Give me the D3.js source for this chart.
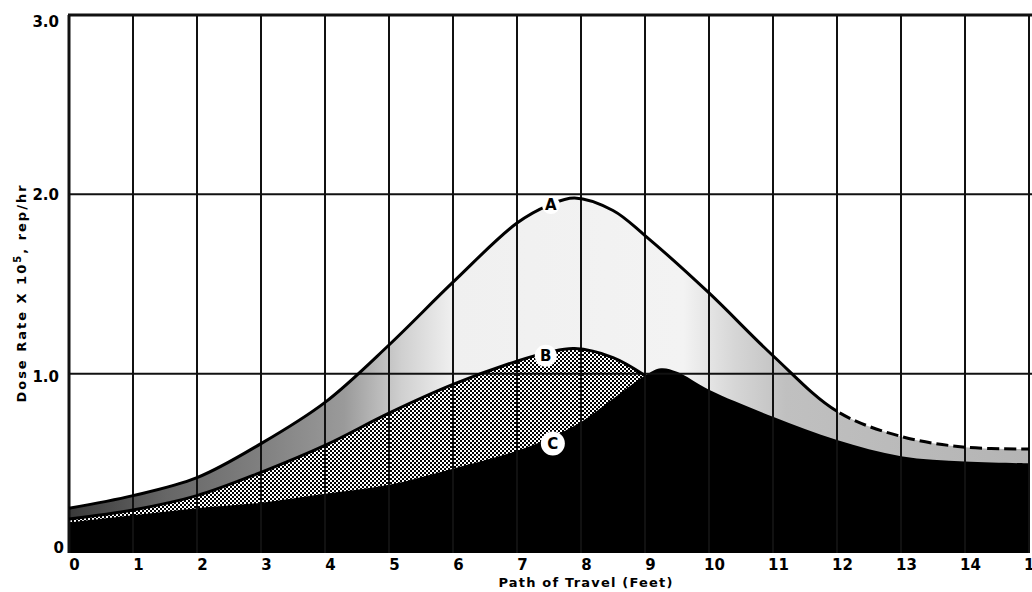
<!DOCTYPE html>
<html>
<head>
<meta charset="utf-8">
<script src="https://cdn.jsdelivr.net/npm/d3@7"></script>
<style>
    body { margin: 0; background: #fff; }
    text { font-family: "DejaVu Sans", sans-serif; font-weight: bold; fill: #000; }
</style>
</head>
<body>
<div id="chart"></div>
<script>
// values (feet, dose rate x 10^5 rep/hr)
const curveA = [
    [0, 0.25], [1, 0.32], [2, 0.42], [3, 0.61], [4, 0.84], [5, 1.16],
    [6, 1.51], [7, 1.84], [7.5, 1.94], [7.9, 1.98], [8.5, 1.91],
    [9, 1.77], [10, 1.45], [11, 1.10], [12, 0.79], [13, 0.65],
    [14, 0.59], [15, 0.58]
];
const curveB = [
    [0, 0.19], [1, 0.24], [2, 0.32], [3, 0.45], [4, 0.60], [5, 0.78], [6, 0.94],
    [7, 1.07], [7.5, 1.12], [7.9, 1.14], [8.5, 1.09], [9, 0.99]
];
const curveC = [
    [0, 0.17], [1, 0.21], [2, 0.25], [3, 0.28], [4, 0.33], [5, 0.38], [6, 0.47],
    [7, 0.57], [7.5, 0.64], [8, 0.73], [8.5, 0.86], [9, 0.99], [9.25, 1.03],
    [9.5, 1.01], [10, 0.91], [11, 0.76], [12, 0.63], [13, 0.54], [14, 0.51], [15, 0.50]
];
const curveLabels = [
    { name: "A", x: 7.53, y: 1.94, r: 9 },
    { name: "B", x: 7.45, y: 1.10, r: 11 },
    { name: "C", x: 7.56, y: 0.61, r: 12 }
];
const xTicks = d3.range(0, 16);
const yTicks = [0, 1, 2, 3];
const dashFrom = 12;

const width = 1032;
const height = 592;

let x = d3.scaleLinear().domain([0, 15]).range([69, 1029]);
let y = d3.scaleLinear().domain([0, 3]).range([553, 15]);

let svg = d3.select("#chart")
    .append("svg")
    .attr("width", width)
    .attr("height", height);

let defs = svg.append("defs");

// shading between A and the lower curves: dark at left, pale in the middle
let grad = defs.append("linearGradient")
    .attr("id", "shadeA")
    .attr("gradientUnits", "userSpaceOnUse")
    .attr("x1", x(0)).attr("x2", x(15))
    .attr("y1", 0).attr("y2", 0);
[[0, "#3a3a3a"], [1.5, "#666"], [3, "#808080"], [4.3, "#9a9a9a"], [5.2, "#d0d0d0"],
 [6, "#f0f0f0"], [9.6, "#f3f3f3"], [10.4, "#d6d6d6"], [11.2, "#c0c0c0"], [15, "#b4b4b4"]]
    .forEach(s => {
        grad.append("stop")
            .attr("offset", s[0] / 15)
            .attr("stop-color", s[1]);
    });

// halftone checker under B
let pat = defs.append("pattern")
    .attr("id", "checker")
    .attr("patternUnits", "userSpaceOnUse")
    .attr("width", 4).attr("height", 4);
pat.append("rect").attr("width", 4).attr("height", 4).attr("fill", "#fff");
pat.append("rect").attr("width", 2).attr("height", 2).attr("fill", "#000");
pat.append("rect").attr("x", 2).attr("y", 2).attr("width", 2).attr("height", 2).attr("fill", "#000");

defs.append("clipPath").attr("id", "clipSolid")
    .append("rect").attr("x", 0).attr("y", 0).attr("width", x(dashFrom)).attr("height", height);
defs.append("clipPath").attr("id", "clipDash")
    .append("rect").attr("x", x(dashFrom)).attr("y", 0).attr("width", width - x(dashFrom)).attr("height", height);

let smooth = d3.curveCatmullRom.alpha(0.5);

let area = d3.area()
    .x(d => x(d[0]))
    .y0(y(0))
    .y1(d => y(d[1]))
    .curve(smooth);

let line = d3.line()
    .x(d => x(d[0]))
    .y(d => y(d[1]))
    .curve(smooth);

// filled areas, back to front
svg.append("path").datum(curveA).attr("d", area).attr("fill", "url(#shadeA)");
svg.append("path").datum(curveB).attr("d", area).attr("fill", "url(#checker)");
svg.append("path").datum(curveC).attr("d", area).attr("fill", "#000");

// grid
svg.append("g")
    .selectAll("line")
    .data(xTicks)
    .join("line")
    .attr("x1", d => x(d)).attr("x2", d => x(d))
    .attr("y1", y(3)).attr("y2", y(0))
    .attr("stroke", "#111")
    .attr("stroke-width", d => d === 0 ? 3 : 2);

svg.append("g")
    .selectAll("line")
    .data(yTicks.filter(d => d > 0))
    .join("line")
    .attr("x1", x(0) - 1).attr("x2", width)
    .attr("y1", d => y(d)).attr("y2", d => y(d))
    .attr("stroke", "#111")
    .attr("stroke-width", d => d === 3 ? 3 : 2);

// curve lines
svg.append("path").datum(curveA)
    .attr("d", line)
    .attr("fill", "none")
    .attr("stroke", "#000")
    .attr("stroke-width", 3)
    .attr("clip-path", "url(#clipSolid)");

svg.append("path").datum(curveA)
    .attr("d", line)
    .attr("fill", "none")
    .attr("stroke", "#000")
    .attr("stroke-width", 3)
    .attr("stroke-dasharray", "12 5")
    .attr("clip-path", "url(#clipDash)");

svg.append("path").datum(curveB)
    .attr("d", line)
    .attr("fill", "none")
    .attr("stroke", "#000")
    .attr("stroke-width", 3);

// curve labels in white discs
let lab = svg.append("g")
    .selectAll("g")
    .data(curveLabels)
    .join("g")
    .attr("transform", d => "translate(" + x(d.x) + "," + y(d.y) + ")");
lab.append("circle").attr("r", d => d.r).attr("fill", "#fff");
lab.append("text")
    .attr("text-anchor", "middle")
    .attr("dy", "0.36em")
    .style("font-size", "15px")
    .text(d => d.name);

// axes
let xAxis = svg.append("g")
    .attr("transform", "translate(5," + (y(0) + 3) + ")")
    .call(d3.axisBottom(x).tickValues(xTicks).tickSize(0).tickPadding(3));
xAxis.select(".domain").remove();
xAxis.selectAll("text")
    .style("font-size", "15px")
    .style("font-family", "'DejaVu Sans', sans-serif");

let yAxis = svg.append("g")
    .attr("transform", "translate(" + x(0) + ",0)")
    .call(d3.axisLeft(y).tickValues(yTicks).tickSize(0).tickPadding(10)
        .tickFormat(d => d === 0 ? "0" : d.toFixed(1)));
yAxis.select(".domain").remove();
yAxis.selectAll("text")
    .style("font-size", "15px")
    .style("font-family", "'DejaVu Sans', sans-serif")
    .attr("transform", d => d === 3 ? "translate(0,7)" : d === 0 ? "translate(5,-5)" : d === 1 ? "translate(0,3)" : null);

// titles
svg.append("text")
    .attr("x", 586)
    .attr("y", 587)
    .attr("text-anchor", "middle")
    .style("font-size", "13px")
    .style("letter-spacing", "1.2px")
    .text("Path of Travel (Feet)");

let yTitle = svg.append("text")
    .attr("transform", "translate(26,293) rotate(-90)")
    .attr("text-anchor", "middle")
    .style("font-size", "13px")
    .style("letter-spacing", "2px");
yTitle.append("tspan").text("Dose Rate X 10");
yTitle.append("tspan").attr("dy", "-5").style("font-size", "10px").text("5");
yTitle.append("tspan").attr("dy", "5").text(", rep/hr");
</script>
</body>
</html>
